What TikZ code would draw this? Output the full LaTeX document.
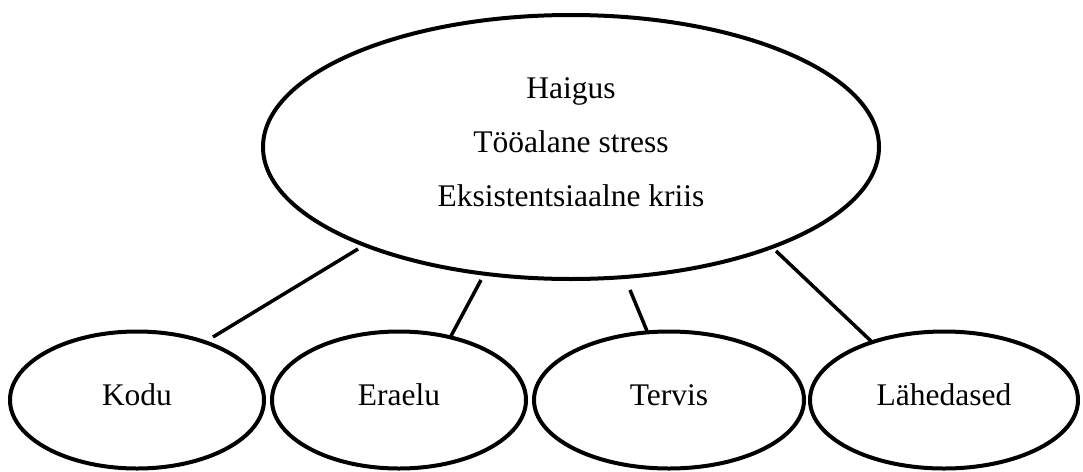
\documentclass[tikz,border=0pt]{standalone}
\usepackage{fontspec}
\setmainfont{Liberation Serif}
\usetikzlibrary{shapes.geometric}
\begin{document}
\begin{tikzpicture}[x=1pt,y=-1pt,
  oval/.style={draw=black,line width=4pt,ellipse,inner sep=0pt},
  lbl/.style={font=\fontsize{31.5}{36}\selectfont,inner sep=0pt,text=black},
  conn/.style={draw=black,line width=3.5pt}]
\useasboundingbox[fill=white] (0,0) rectangle (1083,471);
% main ellipse
\node[oval,minimum width=616pt,minimum height=264pt] (big) at (571,147) {};
\node[lbl,align=center,font=\fontsize{31.5}{54}\selectfont] (bigtext) at (571,142)
  {Haigus\\Tööalane stress\\Eksistentsiaalne kriis};
% bottom ellipses
\node[oval,minimum width=254pt,minimum height=137pt] (kodu) at (137,400) {};
\node[oval,minimum width=254pt,minimum height=137pt] (eraelu) at (399,400) {};
\node[oval,minimum width=270pt,minimum height=137pt] (tervis) at (669,400) {};
\node[oval,minimum width=268pt,minimum height=137pt] (lahedased) at (944,400) {};
\node[lbl] (kodut) at (137,395) {Kodu};
\node[lbl] (eraelut) at (399,395) {Eraelu};
\node[lbl] (tervist) at (669,395) {Tervis};
\node[lbl] (lahedasedt) at (944,395) {Lähedased};
% connector end points
\coordinate (a1) at (358,249); \coordinate (b1) at (213,337);
\coordinate (a2) at (481,280); \coordinate (b2) at (451,336);
\coordinate (a3) at (630,290); \coordinate (b3) at (647,331);
\coordinate (a4) at (776,251); \coordinate (b4) at (872,342);
\draw[conn] (a1) -- (b1);
\draw[conn] (a2) -- (b2);
\draw[conn] (a3) -- (b3);
\draw[conn] (a4) -- (b4);
\end{tikzpicture}
\end{document}
